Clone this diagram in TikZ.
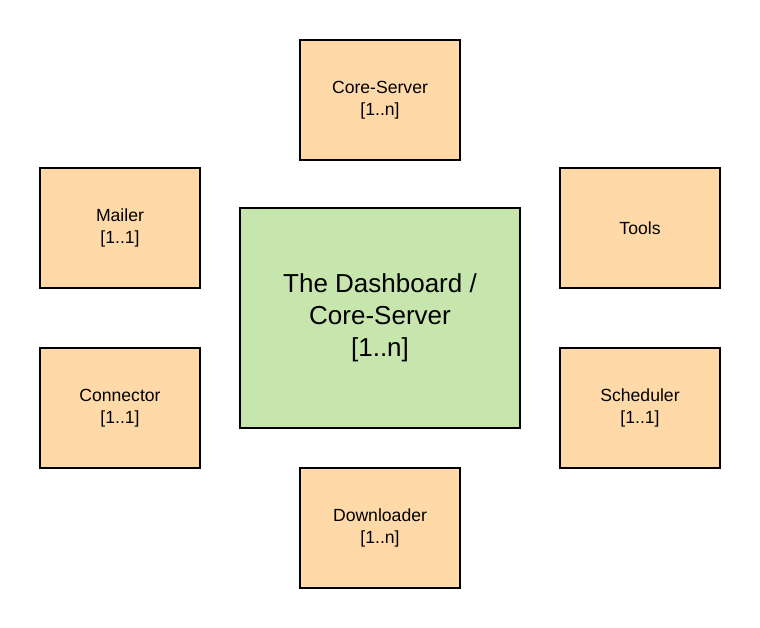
\documentclass[tikz,border=0pt]{standalone}
\usepackage{fontspec}
\setmainfont{Liberation Sans}
\usetikzlibrary{positioning}
\definecolor{boxorange}{HTML}{FFD9A8}
\definecolor{boxgreen}{HTML}{C7E6AD}
\tikzset{
	part/.style={draw, line width=2pt, fill=boxorange, minimum width=160pt, minimum height=120pt, align=center, font=\fontsize{17.6}{22}\selectfont},
	core/.style={draw, line width=2pt, fill=boxgreen, minimum width=280pt, minimum height=220pt, align=center, font=\fontsize{26}{32}\selectfont}
}

\begin{document}
\begin{tikzpicture}[x=1pt, y=-1pt]
	\useasboundingbox (0, 0) rectangle (760, 628);
	\node [core] (0) at (380, 318) {The Dashboard /\\Core-Server\\{[1..n]}};
	\node [part] (1) at (380, 100) {Core-Server\\{[1..n]}};
	\node [part] (2) at (120, 228) {Mailer\\{[1..1]}};
	\node [part] (3) at (640, 228) {Tools};
	\node [part] (4) at (120, 408) {Connector\\{[1..1]}};
	\node [part] (5) at (640, 408) {Scheduler\\{[1..1]}};
	\node [part] (6) at (380, 528) {Downloader\\{[1..n]}};
\end{tikzpicture}
\end{document}
